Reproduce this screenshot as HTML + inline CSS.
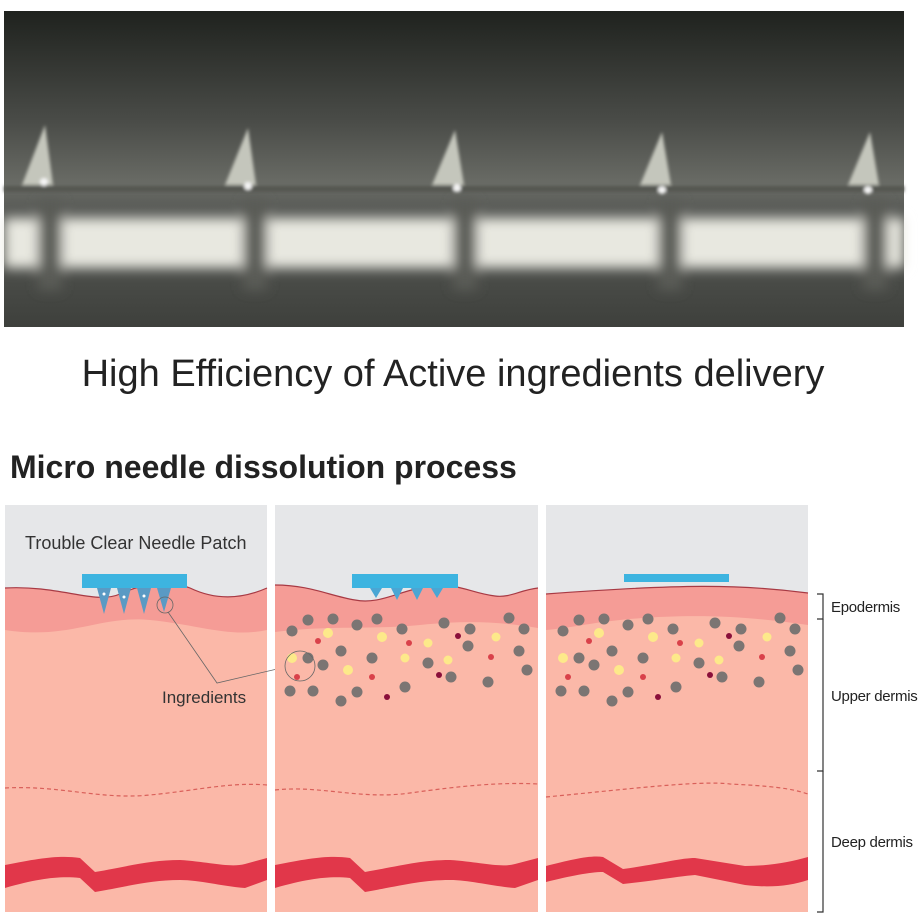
<!DOCTYPE html>
<html><head><meta charset="utf-8"><style>
body{margin:0;background:#fff;width:924px;height:924px;overflow:hidden}
svg{display:block}
</style></head><body>
<svg width="924" height="924" viewBox="0 0 924 924" xmlns="http://www.w3.org/2000/svg" font-family="Liberation Sans, sans-serif">
<defs>
<linearGradient id="ph" x1="0" y1="0" x2="0" y2="1">
<stop offset="0" stop-color="#1f221e"/><stop offset="0.35" stop-color="#4a4c48"/><stop offset="0.55" stop-color="#6a6c66"/><stop offset="0.62" stop-color="#5a5c58"/><stop offset="1" stop-color="#3e403c"/>
</linearGradient>
<filter id="bl" x="-10%" y="-50%" width="120%" height="200%"><feGaussianBlur stdDeviation="6"/></filter>
<filter id="bl2"><feGaussianBlur stdDeviation="1.5"/></filter>
<g id="dots">
<g fill="#7b7573">
<circle cx="17" cy="631" r="5.5"/><circle cx="33" cy="620" r="5.5"/><circle cx="58" cy="619" r="5.5"/><circle cx="82" cy="625" r="5.5"/><circle cx="102" cy="619" r="5.5"/><circle cx="127" cy="629" r="5.5"/><circle cx="169" cy="623" r="5.5"/><circle cx="195" cy="629" r="5.5"/><circle cx="234" cy="618" r="5.5"/><circle cx="249" cy="629" r="5.5"/><circle cx="193" cy="646" r="5.5"/><circle cx="66" cy="651" r="5.5"/><circle cx="33" cy="658" r="5.5"/><circle cx="48" cy="665" r="5.5"/><circle cx="97" cy="658" r="5.5"/><circle cx="153" cy="663" r="5.5"/><circle cx="176" cy="677" r="5.5"/><circle cx="244" cy="651" r="5.5"/><circle cx="252" cy="670" r="5.5"/><circle cx="213" cy="682" r="5.5"/><circle cx="15" cy="691" r="5.5"/><circle cx="38" cy="691" r="5.5"/><circle cx="66" cy="701" r="5.5"/><circle cx="82" cy="692" r="5.5"/><circle cx="130" cy="687" r="5.5"/>
</g>
<g fill="#fde98a">
<circle cx="53" cy="633" r="5"/><circle cx="107" cy="637" r="5"/><circle cx="153" cy="643" r="4.5"/><circle cx="221" cy="637" r="4.5"/><circle cx="17" cy="658" r="5"/><circle cx="73" cy="670" r="5"/><circle cx="130" cy="658" r="4.5"/><circle cx="173" cy="660" r="4.5"/>
</g>
<g fill="#d9414a">
<circle cx="43" cy="641" r="3"/><circle cx="134" cy="643" r="3"/><circle cx="216" cy="657" r="3"/><circle cx="22" cy="677" r="3"/><circle cx="97" cy="677" r="3"/>
</g>
<g fill="#8a0f3a">
<circle cx="183" cy="636" r="3"/><circle cx="164" cy="675" r="3"/><circle cx="112" cy="697" r="3"/>
</g>
</g>
</defs>

<!-- photo -->
<rect x="4" y="11" width="900" height="316" fill="url(#ph)"/>
<g filter="url(#bl)">
<rect x="4" y="218" width="900" height="50" fill="#e8e8e0"/>
<g fill="#5a5c56">
<rect x="38" y="200" width="24" height="90"/><rect x="243" y="200" width="24" height="90"/><rect x="453" y="200" width="24" height="90"/><rect x="658" y="200" width="24" height="90"/><rect x="863" y="200" width="24" height="90"/>
</g>
</g>
<g filter="url(#bl2)">
<rect x="4" y="186" width="900" height="6" fill="#555751"/>
<g fill="#c4c6bc">
<path d="M22 185 L45 125 L53 185Z"/><path d="M225 185 L248 128 L256 185Z"/><path d="M432 185 L455 130 L464 185Z"/><path d="M640 185 L662 132 L671 185Z"/><path d="M848 185 L870 132 L879 185Z"/>
</g>
<g fill="#f4f4f4">
<circle cx="44" cy="182" r="4"/><circle cx="248" cy="186" r="4"/><circle cx="457" cy="188" r="4"/><circle cx="662" cy="190" r="4"/><circle cx="868" cy="190" r="4"/>
</g>
</g>

<text x="453" y="386" text-anchor="middle" font-size="38" fill="#222">High Efficiency of Active ingredients delivery</text>
<text x="10" y="478" font-size="32" font-weight="bold" fill="#222">Micro needle dissolution process</text>

<!-- Panel 1 -->
<g>
<rect x="5" y="505" width="262" height="407" fill="#fbb8a8"/>
<path d="M5 505 H267 V588 C240 600 215 600 190 588 C165 578 140 585 120 594 C95 605 60 585 5 588Z" fill="#e6e7e9"/>
<path d="M5 588 C60 585 95 605 120 594 C140 585 165 578 190 588 C215 600 240 600 267 588 V630 C230 638 200 625 150 620 C100 615 70 640 5 630Z" fill="#f59c96"/>
<path d="M5 588 C60 585 95 605 120 594 C140 585 165 578 190 588 C215 600 240 600 267 588" fill="none" stroke="#a83a44" stroke-width="1.2"/>
<path d="M5 788 C60 785 100 800 150 795 C200 790 230 782 267 785" fill="none" stroke="#d9605a" stroke-width="1.2" stroke-dasharray="4,3"/>
<path d="M5 865 C40 858 60 855 80 858 L95 872 C130 866 150 860 180 860 C210 862 230 868 245 864 L267 858 V880 L245 888 C220 886 200 880 180 880 C150 880 130 886 95 892 L80 878 C60 876 40 878 5 888Z" fill="#e1374a"/>
<rect x="82" y="574" width="105" height="14" fill="#3db4e0"/>
<g fill="#5a9ac4"><path d="M97 588 L111 588 L104 614Z"/><path d="M117 588 L131 588 L124 614Z"/><path d="M137 588 L151 588 L144 614Z"/><path d="M157 588 L171 588 L164 612Z"/></g>
<g fill="#fff"><circle cx="104" cy="594" r="1.5"/><circle cx="124" cy="597" r="1.5"/><circle cx="144" cy="596" r="1.5"/></g>
<circle cx="165" cy="605" r="8" fill="none" stroke="#666" stroke-width="0.8"/>
<path d="M168 612 L217 683 L290 666" fill="none" stroke="#666" stroke-width="0.8"/>
<text x="25" y="549" font-size="18" fill="#333">Trouble Clear Needle Patch</text>
<text x="162" y="703" font-size="17" fill="#333">Ingredients</text>
</g>

<!-- Panel 2 -->
<g>
<rect x="275" y="505" width="263" height="407" fill="#fbb8a8"/>
<path d="M275 505 H538 V588 C520 590 510 598 495 596 C470 593 460 583 430 586 C400 590 380 605 355 600 C330 596 310 585 275 585Z" fill="#e6e7e9"/>
<path d="M275 585 C310 585 330 596 355 600 C380 605 400 590 430 586 C460 583 470 593 495 596 C510 598 520 590 538 588 V628 C500 622 470 620 420 625 C370 630 330 625 275 632Z" fill="#f59c96"/>
<path d="M275 585 C310 585 330 596 355 600 C380 605 400 590 430 586 C460 583 470 593 495 596 C510 598 520 590 538 588" fill="none" stroke="#a83a44" stroke-width="1.2"/>
<path d="M275 790 C320 785 360 800 410 793 C460 786 500 782 538 784" fill="none" stroke="#d9605a" stroke-width="1.2" stroke-dasharray="4,3"/>
<path d="M275 865 C310 858 330 855 350 858 L365 872 C400 866 420 860 450 860 C480 862 500 868 515 864 L538 858 V880 L515 888 C490 886 470 880 450 880 C420 880 400 886 365 892 L350 878 C330 876 310 878 275 888Z" fill="#e1374a"/>
<rect x="352" y="574" width="106" height="14" fill="#3db4e0"/>
<g fill="#4aa6d4"><path d="M370 588 L382 588 L376 598Z"/><path d="M391 588 L403 588 L397 600Z"/><path d="M411 588 L423 588 L417 600Z"/><path d="M431 588 L443 588 L437 598Z"/></g>
<use href="#dots" x="275"/>
<circle cx="300" cy="666" r="15" fill="none" stroke="#666" stroke-width="0.8"/>
</g>

<!-- Panel 3 -->
<g>
<rect x="546" y="505" width="262" height="407" fill="#fbb8a8"/>
<path d="M546 505 H808 V593 C740 584 680 584 546 594Z" fill="#e6e7e9"/>
<path d="M546 594 C680 584 740 584 808 593 V625 C760 618 700 612 620 620 C590 623 570 628 546 630Z" fill="#f59c96"/>
<path d="M546 594 C680 584 740 584 808 593" fill="none" stroke="#a83a44" stroke-width="1.2"/>
<path d="M546 797 C620 790 700 780 730 784 C770 786 790 788 808 794" fill="none" stroke="#d9605a" stroke-width="1.2" stroke-dasharray="4,3"/>
<path d="M546 866 C570 860 590 855 603 857 L623 869 C660 864 680 858 695 858 L745 866 C770 866 790 862 808 857 V880 C790 886 770 888 745 885 L695 875 C680 876 660 880 623 884 L603 872 C590 872 570 876 546 882Z" fill="#e1374a"/>
<rect x="624" y="574" width="105" height="8" fill="#3db4e0"/>
<use href="#dots" x="546"/>
</g>

<!-- bracket -->
<g stroke="#333" stroke-width="1.2" fill="none">
<path d="M817 594 H823 V619 H817"/><path d="M823 619 V771 H817"/><path d="M823 771 V912 H817"/>
</g>
<g font-size="15" fill="#222" letter-spacing="-0.3">
<text x="831" y="612">Epodermis</text>
<text x="831" y="701">Upper dermis</text>
<text x="831" y="847">Deep dermis</text>
</g>
</svg>
</body></html>
